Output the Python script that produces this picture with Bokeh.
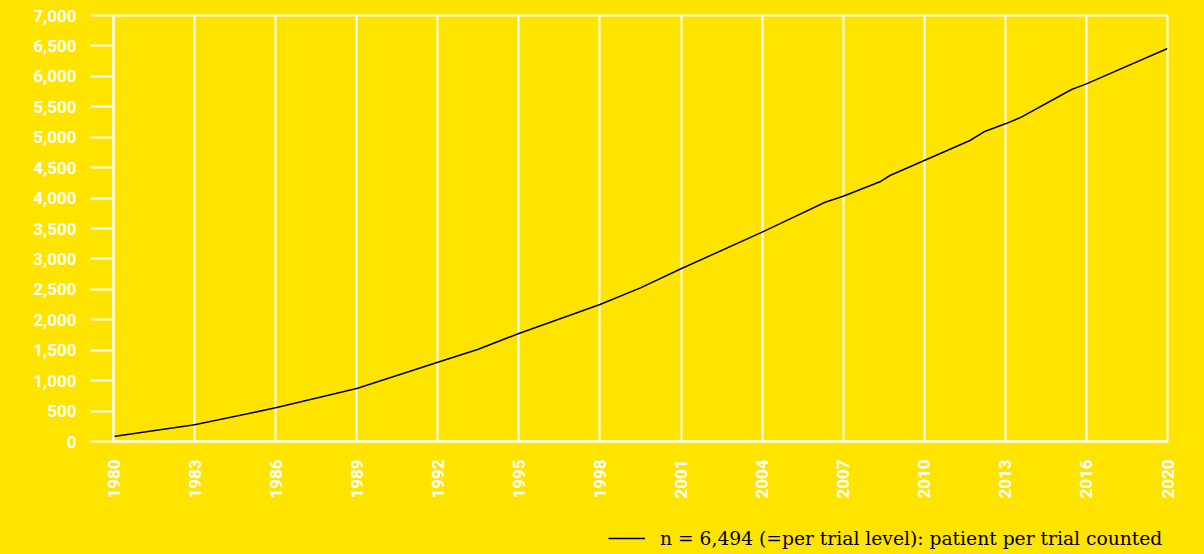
import math
from bokeh.plotting import figure
from bokeh.layouts import column
from bokeh.models import FixedTicker, NumeralTickFormatter, Legend, LegendItem, Range1d
from bokeh.embed import file_html
from bokeh.resources import INLINE

# ---- data ----
years = [1980.0, 1983.0, 1986.0, 1989.0, 1992.0, 1993.47, 1995.0, 1998.0, 1999.5,
         2001.0, 2004.0, 2006.33, 2007.0, 2008.36, 2008.73, 2010.0, 2011.69,
         2012.21, 2013.0, 2013.54, 2015.45, 2016.0, 2019.0]
patients = [82, 274, 553, 871, 1303, 1512, 1775, 2251, 2525,
            2838, 3440, 3932, 4031, 4267, 4371, 4617, 4946,
            5089, 5220, 5319, 5784, 5877, 6458]
x_ticks = [1980, 1983, 1986, 1989, 1992, 1995, 1998, 2001, 2004, 2007, 2010, 2013, 2016, 2019]
x_tick_labels = ["1980", "1983", "1986", "1989", "1992", "1995", "1998", "2001", "2004",
                 "2007", "2010", "2013", "2016", "2020"]
y_ticks = list(range(0, 7001, 500))
legend_label = "n = 6,494 (=per trial level): patient per trial counted"

BG = "#FFE400"
W = 1204
H_MAIN, H_LEG = 510, 44

p = figure(width=W, height=H_MAIN, output_backend="svg", toolbar_location=None,
           x_range=Range1d(1980, 2019), y_range=Range1d(0, 7000),
           min_border_left=113, min_border_top=15, min_border_right=37,
           min_border_bottom=H_MAIN - 441)
p.background_fill_color = BG
p.border_fill_color = BG
p.outline_line_color = "white"
p.outline_line_width = 2

line = p.line(years, patients, line_color="black", line_width=1.5)

# grid
p.xgrid.ticker = FixedTicker(ticks=x_ticks)
p.xgrid.grid_line_color = "white"
p.xgrid.grid_line_width = 2
p.ygrid.grid_line_color = None

# x axis
xa = p.xaxis[0]
xa.ticker = FixedTicker(ticks=x_ticks)
xa.major_label_overrides = {t: l for t, l in zip(x_ticks, x_tick_labels)}
xa.major_label_orientation = math.pi / 2
xa.major_tick_out = 0
xa.major_tick_in = 0
xa.minor_tick_out = 0
xa.minor_tick_in = 0
xa.axis_line_color = "white"
xa.axis_line_width = 2
xa.major_label_standoff = 18
xa.major_label_text_color = "white"
xa.major_label_text_font = "Roboto"
xa.major_label_text_font_style = "bold"
xa.major_label_text_font_size = "17px"

# y axis
ya = p.yaxis[0]
ya.ticker = FixedTicker(ticks=y_ticks)
ya.formatter = NumeralTickFormatter(format="0,0")
ya.major_tick_out = 23
ya.major_tick_in = 0
ya.minor_tick_out = 0
ya.minor_tick_in = 0
ya.major_tick_line_color = "white"
ya.major_tick_line_width = 2
ya.axis_line_color = "white"
ya.axis_line_width = 2
ya.major_label_standoff = 14
ya.major_label_text_color = "white"
ya.major_label_text_font = "Roboto"
ya.major_label_text_font_style = "bold"
ya.major_label_text_font_size = "17px"

# ---- legend strip below the chart ----
pl = figure(width=W, height=H_LEG, output_backend="svg", toolbar_location=None,
            x_axis_location=None, y_axis_location=None,
            x_range=Range1d(0, 1), y_range=Range1d(0, 1), min_border=0)
pl.background_fill_color = None
pl.border_fill_color = BG
pl.outline_line_color = None
pl.grid.visible = False
# same series, out of this strip's view; it only provides the legend's line sample
sample = pl.line(years, patients, line_color="black", line_width=1.5)
legend = Legend(items=[LegendItem(label=legend_label, renderers=[sample])],
                location=(495, 4), padding=0, margin=0, spacing=0,
                glyph_width=37, glyph_height=24, label_height=24, label_standoff=15,
                label_text_font="DejaVu Serif", label_text_font_size="18.7px",
                label_text_color="black", background_fill_alpha=0, border_line_color=None)
pl.add_layout(legend, "center")

layout = column(p, pl, spacing=0, styles={"background-color": BG})

html = file_html(layout, INLINE)
html = html.replace("<body>", '<body style="background-color:%s;">' % BG, 1)
open("out.html", "w").write(html)
